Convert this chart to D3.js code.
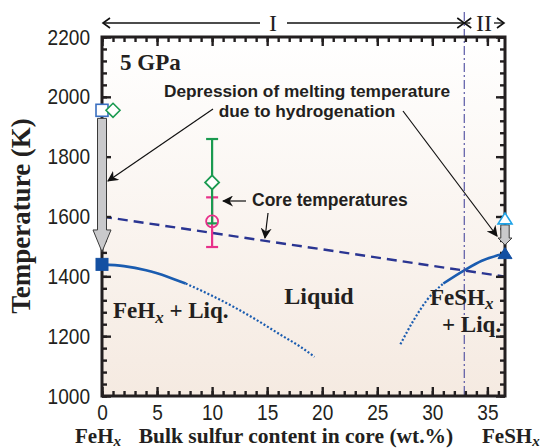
<!DOCTYPE html>
<html><head><meta charset="utf-8">
<script src="https://cdn.jsdelivr.net/npm/d3@7"></script>
<style>
html,body{margin:0;padding:0;background:#fff;}
svg{display:block;}
</style></head>
<body>
<svg id="c" width="547" height="448"></svg>
<script>
// ---- data ----
const xMajorTicks = [0,5,10,15,20,25,30,35];
const yMajorTicks = [1000,1200,1400,1600,1800,2000,2200];
const xDomain = [0, 36.6];
const yDomain = [1000, 2200];
const liquidusLeftSolid = [[0,1440],[2,1434],[4,1420],[6,1398],[7.6,1376]];
const liquidusLeftDotted = [[7.6,1376],[10,1335],[12,1297],[14,1255],[16.2,1205],[18,1165],[19.3,1131]];
const liquidusRightDotted = [[27.1,1173],[28.3,1253],[29.5,1320],[31.0,1376]];
const liquidusRightSolid = [[31.0,1376],[32.9,1420],[34.5,1452],[36.6,1476]];
const coreTempLine = [[0,1600],[36.6,1399]];
const boundaryS = 32.9;
const hydrideMelt = [{x:0, T:1440, shape:"square"}, {x:36.6, T:1476, shape:"triangle"}];
const anhydrousMelt = [{x:0, T:1955, shape:"square", c:"#3a6fc0"},{x:1.0, T:1955, shape:"diamond", c:"#1a9a50"},{x:36.6, T:1592, shape:"triangle", c:"#1ea3e8"}];
const coreTemps = [{x:10, T:1584, lo:1498, hi:1664, shape:"circle", c:"#e8308a"},{x:10, T:1714, lo:1577, hi:1859, shape:"diamond", c:"#1a9a50"}];
const depressionArrows = [{x:0, top:1928, head:1555, tip:1482, big:true},{x:36.6, top:1572, head:1528, tip:1505, big:false}];

// ---- setup ----
const svg = d3.select("#c");
const L=102, R=505, T=37, B=396;
const x = d3.scaleLinear(xDomain, [L, R]);
const y = d3.scaleLinear(yDomain, [B, T]);

const defs = svg.append("defs");
const g = defs.append("linearGradient").attr("id","bg").attr("x1",0).attr("y1",0).attr("x2",0).attr("y2",1);
g.append("stop").attr("offset","0%").attr("stop-color","#ffffff");
g.append("stop").attr("offset","100%").attr("stop-color","#f5eae1");
defs.append("marker").attr("id","ah").attr("viewBox","0 0 10 10").attr("refX",9).attr("refY",5)
  .attr("markerWidth",11).attr("markerHeight",11).attr("markerUnits","userSpaceOnUse").attr("orient","auto")
  .append("path").attr("d","M0,0 L10,5 L0,10 L3,5 Z").attr("fill","#111");

svg.append("rect").attr("x",L).attr("y",T).attr("width",R-L).attr("height",B-T).attr("fill","url(#bg)");

// ---- curves ----
const line = d3.line().x(d=>x(d[0])).y(d=>y(d[1])).curve(d3.curveMonotoneX);
const blue = "#1a5cb0";
svg.append("path").attr("d",line(coreTempLine)).attr("fill","none").attr("stroke","#2a3592").attr("stroke-width",2.4).attr("stroke-dasharray","10,6");
[liquidusLeftSolid, liquidusRightSolid].forEach(d=>svg.append("path").attr("d",line(d)).attr("fill","none").attr("stroke",blue).attr("stroke-width",2.6));
[liquidusLeftDotted, liquidusRightDotted].forEach(d=>svg.append("path").attr("d",line(d)).attr("fill","none").attr("stroke",blue).attr("stroke-width",2.2).attr("stroke-dasharray","2,2"));

// boundary dash-dot
svg.append("line").attr("x1",x(boundaryS)).attr("x2",x(boundaryS)).attr("y1",12).attr("y2",B)
  .attr("stroke","#4b4a9e").attr("stroke-width",1.1).attr("stroke-dasharray","9,3,2,3");

// ---- axes ----
function minorTicks(){ return d3.range(0,37,1); }
const yMinor = d3.range(1000,2201,40);
const axColor="#231f20";
function styleAxis(sel){ sel.select(".domain").remove(); sel.selectAll(".tick line").attr("stroke",axColor).attr("stroke-width",2.4); }
const fmt = d3.format("d");
// bottom
svg.append("g").attr("transform",`translate(0,${B})`).call(d3.axisBottom(x).tickValues(minorTicks()).tickSize(-5).tickFormat("")).call(styleAxis);
const bx = svg.append("g").attr("transform",`translate(0,${B})`).call(d3.axisBottom(x).tickValues(xMajorTicks).tickSize(-9).tickPadding(8).tickFormat(fmt)).call(styleAxis);
// top
svg.append("g").attr("transform",`translate(0,${T})`).call(d3.axisTop(x).tickValues(minorTicks()).tickSize(-5).tickFormat("")).call(styleAxis);
svg.append("g").attr("transform",`translate(0,${T})`).call(d3.axisTop(x).tickValues(xMajorTicks).tickSize(-9).tickFormat("")).call(styleAxis);
// left
svg.append("g").attr("transform",`translate(${L},0)`).call(d3.axisLeft(y).tickValues(yMinor).tickSize(-5).tickFormat("")).call(styleAxis);
const ly = svg.append("g").attr("transform",`translate(${L},0)`).call(d3.axisLeft(y).tickValues(yMajorTicks).tickSize(-9).tickPadding(12).tickFormat(fmt)).call(styleAxis);
// right
svg.append("g").attr("transform",`translate(${R},0)`).call(d3.axisRight(y).tickValues(yMinor).tickSize(-5).tickFormat("")).call(styleAxis);
svg.append("g").attr("transform",`translate(${R},0)`).call(d3.axisRight(y).tickValues(yMajorTicks).tickSize(-9).tickFormat("")).call(styleAxis);
[bx, ly].forEach(a=>a.selectAll(".tick text")
  .attr("font-family","'Liberation Sans', Arial, sans-serif").attr("font-size",22).attr("fill","#231f20")
  .each(function(){ const t=d3.select(this); t.attr("textLength", t.text().length*10.6).attr("lengthAdjust","spacingAndGlyphs"); }));
// frame
svg.append("rect").attr("x",L).attr("y",T).attr("width",R-L).attr("height",B-T).attr("fill","none").attr("stroke",axColor).attr("stroke-width",3);

// ---- block arrows ----
depressionArrows.forEach(a=>{
  const cx = x(a.x), sw = a.big?4.5:4.2, hw = a.big?9:7;
  const yt=y(a.top), yh=y(a.head), yp=y(a.tip);
  const p = `M${cx-sw},${yt} L${cx+sw},${yt} L${cx+sw},${yh} L${cx+hw},${yh} L${cx},${yp} L${cx-hw},${yh} L${cx-sw},${yh} Z`;
  svg.append("path").attr("d",p).attr("fill","#c9c9cb").attr("stroke","#3a3a3a").attr("stroke-width",1);
});

// ---- markers ----
function marker(sel, shape, cx, cy, fill, stroke, sw){
  let el;
  if(shape==="square") el = sel.append("rect").attr("x",cx-6).attr("y",cy-6).attr("width",12).attr("height",12);
  else if(shape==="diamond") el = sel.append("path").attr("d",`M${cx},${cy-7} L${cx+7},${cy} L${cx},${cy+7} L${cx-7},${cy} Z`);
  else if(shape==="triangle") el = sel.append("path").attr("d",`M${cx},${cy-6} L${cx+7},${cy+5} L${cx-7},${cy+5} Z`);
  else el = sel.append("circle").attr("cx",cx).attr("cy",cy).attr("r",6);
  el.attr("fill",fill).attr("stroke",stroke).attr("stroke-width",sw);
}
hydrideMelt.forEach(d=>marker(svg,d.shape,x(d.x),y(d.T),"#1450a2","#1450a2",1));
anhydrousMelt.forEach(d=>marker(svg,d.shape,x(d.x),y(d.T),"#ffffff",d.c,1.6));

// error bars: magenta first, then green, then markers
function errBar(d){
  const cx=x(d.x);
  svg.append("line").attr("x1",cx).attr("x2",cx).attr("y1",y(d.lo)).attr("y2",y(d.hi)).attr("stroke",d.c).attr("stroke-width",2.2);
  [d.lo,d.hi].forEach(v=>svg.append("line").attr("x1",cx-6).attr("x2",cx+6).attr("y1",y(v)).attr("y2",y(v)).attr("stroke",d.c).attr("stroke-width",2.2));
}
errBar(coreTemps[0]); errBar(coreTemps[1]);
marker(svg, coreTemps[1].shape, x(coreTemps[1].x), y(coreTemps[1].T), "#ffffff", coreTemps[1].c, 1.8);
marker(svg, coreTemps[0].shape, x(coreTemps[0].x), y(coreTemps[0].T), "none", coreTemps[0].c, 1.8);

// ---- annotation arrows ----
function arrow(x1,y1,x2,y2){ svg.append("line").attr("x1",x1).attr("y1",y1).attr("x2",x2).attr("y2",y2).attr("stroke","#111").attr("stroke-width",1.2).attr("marker-end","url(#ah)"); }
arrow(213,109,x(0)+6,181);
arrow(403,111,x(36.6)-8,236);
arrow(246,201,x(10)+11,201);
arrow(268,213,265,238);

// ---- texts ----
const sans = "'Liberation Sans', Arial, sans-serif", serif = "'Liberation Serif','Times New Roman',serif";
function txt(s, tx, ty, opts={}){
  return svg.append("text").attr("x",tx).attr("y",ty).text(s)
    .attr("font-family",opts.ff||serif).attr("font-size",opts.fs||22).attr("font-weight",opts.fw||"bold")
    .attr("text-anchor",opts.anchor||"start").attr("fill",opts.fill||"#231f20");
}
txt("5 GPa",120,70,{fs:23});
txt("Depression of melting temperature",307,97,{ff:sans,fs:17.3,anchor:"middle"});
txt("due to hydrogenation",307,117,{ff:sans,fs:17.3,anchor:"middle"});
txt("Core temperatures",252,206,{ff:sans,fs:17.5});
txt("Liquid",319,304,{fs:24,anchor:"middle"});
function sub(textSel, main, subS, rest, subFs, dy){
  textSel.text(null);
  textSel.append("tspan").text(main);
  textSel.append("tspan").text(subS).attr("font-style","italic").attr("font-size",subFs).attr("dy",dy);
  if(rest) textSel.append("tspan").text(rest).attr("dy",-dy);
}
sub(txt("",113,318,{fs:23}),"FeH","x"," + Liq.",17,5);
sub(txt("",430,305,{fs:23}),"FeSH","x",null,17,4);
txt("+ Liq.",442,332,{fs:23});
// axis titles
svg.append("text").attr("transform","translate(30,216) rotate(-90)").attr("text-anchor","middle")
  .attr("font-family",serif).attr("font-weight","bold").attr("font-size",27).attr("fill","#231f20").text("Temperature (K)");
txt("Bulk sulfur content in core (wt.%)",296,443,{fs:21.5,anchor:"middle"});
sub(txt("",75,443,{fs:21}),"FeH","x",null,15,3);
sub(txt("",482,443,{fs:21}),"FeSH","x",null,15,3);

// region header
const hy = 23;
svg.append("line").attr("x1",260).attr("x2",104).attr("y1",hy).attr("y2",hy).attr("stroke","#111").attr("stroke-width",1.3);
svg.append("path").attr("d",`M110,${hy-5} L103,${hy} L110,${hy+5}`).attr("fill","none").attr("stroke","#111").attr("stroke-width",1.6);
svg.append("line").attr("x1",287).attr("x2",x(boundaryS)).attr("y1",hy).attr("y2",hy).attr("stroke","#111").attr("stroke-width",1.3);
svg.append("path").attr("d",`M${x(boundaryS)-7},${hy-5} L${x(boundaryS)},${hy} L${x(boundaryS)-7},${hy+5}`).attr("fill","none").attr("stroke","#111").attr("stroke-width",1.6);
svg.append("path").attr("d",`M${x(boundaryS)+7},${hy-5} L${x(boundaryS)},${hy} L${x(boundaryS)+7},${hy+5}`).attr("fill","none").attr("stroke","#111").attr("stroke-width",1.6);
svg.append("line").attr("x1",x(boundaryS)).attr("x2",x(boundaryS)+6).attr("y1",hy).attr("y2",hy).attr("stroke","#111").attr("stroke-width",1.3);
svg.append("line").attr("x1",494).attr("x2",503).attr("y1",hy).attr("y2",hy).attr("stroke","#111").attr("stroke-width",1.3);
svg.append("path").attr("d",`M497,${hy-5} L504,${hy} L497,${hy+5}`).attr("fill","none").attr("stroke","#111").attr("stroke-width",1.6);
txt("I",273,31,{fs:24,fw:"normal",anchor:"middle"});
txt("II",484,31,{fs:24,fw:"normal",anchor:"middle"});
</script>
</body></html>
